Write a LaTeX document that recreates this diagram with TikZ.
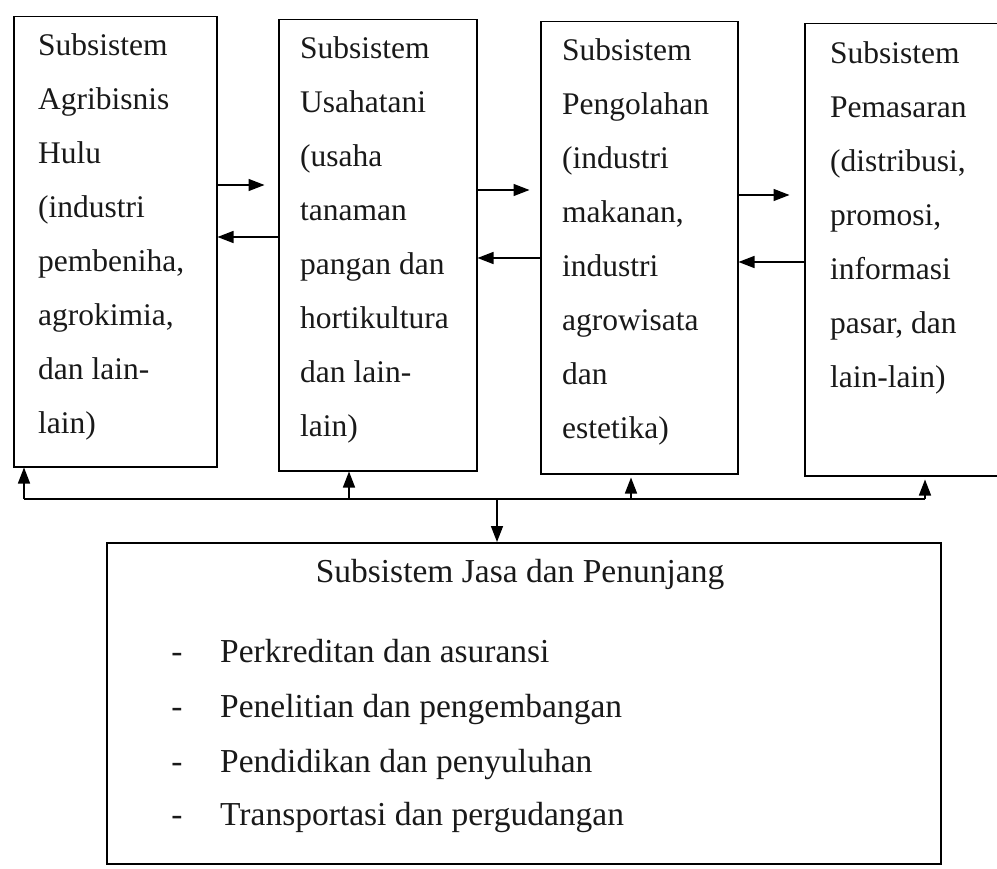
\documentclass[tikz,border=0pt]{standalone}
\usepackage{fontspec}
\setmainfont{Liberation Serif}
\usetikzlibrary{arrows.meta,calc}
\tikzset{
  boxshape/.style={draw, line width=1.5pt, rectangle, inner sep=0pt},
  txt/.style={inner sep=0pt, align=left, font=\fontsize{31.5}{54}\selectfont, text=black!90},
  itm/.style={inner sep=0pt, font=\fontsize{33.5}{40}\selectfont, text=black!90},
  arr/.style={line width=1.5pt, -{Triangle[length=16pt,width=12pt]}},
  bus/.style={line width=1.5pt}
}
\begin{document}
\begin{tikzpicture}[x=1pt,y=-1pt]
\useasboundingbox (0,0) rectangle (997,869);
% boxes
\node[boxshape, anchor=north west, minimum width=203pt, minimum height=450pt] (b1) at (13,16) {};
\node[boxshape, anchor=north west, minimum width=198pt, minimum height=451pt] (b2) at (278,19) {};
\node[boxshape, anchor=north west, minimum width=197pt, minimum height=452pt] (b3) at (540,21) {};
\node[boxshape, anchor=north west, minimum width=205pt, minimum height=452pt] (b4) at (804,23) {};
\node[boxshape, anchor=north west, minimum width=834pt, minimum height=321pt] (jasa) at (106,542) {};
% box texts (first baseline - 21.5)
\node[txt, anchor=north west] (t1) at (38,33.5) {Subsistem\\Agribisnis\\Hulu\\(industri\\pembeniha,\\agrokimia,\\dan lain-\\lain)};
\node[txt, anchor=north west] (t2) at (300,36.5) {Subsistem\\Usahatani\\(usaha\\tanaman\\pangan dan\\hortikultura\\dan lain-\\lain)};
\node[txt, anchor=north west] (t3) at (562,38.5) {Subsistem\\Pengolahan\\(industri\\makanan,\\industri\\agrowisata\\dan\\estetika)};
\node[txt, anchor=north west] (t4) at (830,41.5) {Subsistem\\Pemasaran\\(distribusi,\\promosi,\\informasi\\pasar, dan\\lain-lain)};
% horizontal arrows between boxes
\draw[arr] (b1.east |- 0,185) -- ++(47,0) coordinate (a12);
\draw[arr] (b2.west |- 0,237) -- (b1.east |- 0,237);
\draw[arr] (b2.east |- 0,190) -- ++(52,0) coordinate (a23);
\draw[arr] (b3.west |- 0,258) -- (b2.east |- 0,258);
\draw[arr] (b3.east |- 0,195) -- ++(51,0) coordinate (a34);
\draw[arr] (b4.west |- 0,262) -- (b3.east |- 0,262);
% bus
\coordinate (busL) at (24,499);
\coordinate (busR) at (925,499);
\coordinate (bus2) at (349,499);
\coordinate (bus3) at (631,499);
\coordinate (busD) at (497,499);
\draw[bus] (busL) -- (busR);
\draw[arr] (busL) -- (busL |- b1.south);
\draw[arr] (bus2) -- (bus2 |- b2.south);
\draw[arr] (bus3) -- ($(bus3 |- b3.south)+(0,3)$);
\draw[arr] (busR) -- ($(busR |- b4.south)+(0,3)$);
\draw[arr] (busD) -- (busD |- jasa.north);
% bottom box text
\node[itm, anchor=base] (title) at (520,582) {Subsistem Jasa dan Penunjang};
\node[itm, anchor=base] (d1) at (177,662) {-};
\node[itm, anchor=base west] (i1) at (220,662) {Perkreditan dan asuransi};
\node[itm, anchor=base] (d2) at (177,717) {-};
\node[itm, anchor=base west] (i2) at (220,717) {Penelitian dan pengembangan};
\node[itm, anchor=base] (d3) at (177,772) {-};
\node[itm, anchor=base west] (i3) at (220,772) {Pendidikan dan penyuluhan};
\node[itm, anchor=base] (d4) at (177,825) {-};
\node[itm, anchor=base west] (i4) at (220,825) {Transportasi dan pergudangan};
\end{tikzpicture}
\end{document}
